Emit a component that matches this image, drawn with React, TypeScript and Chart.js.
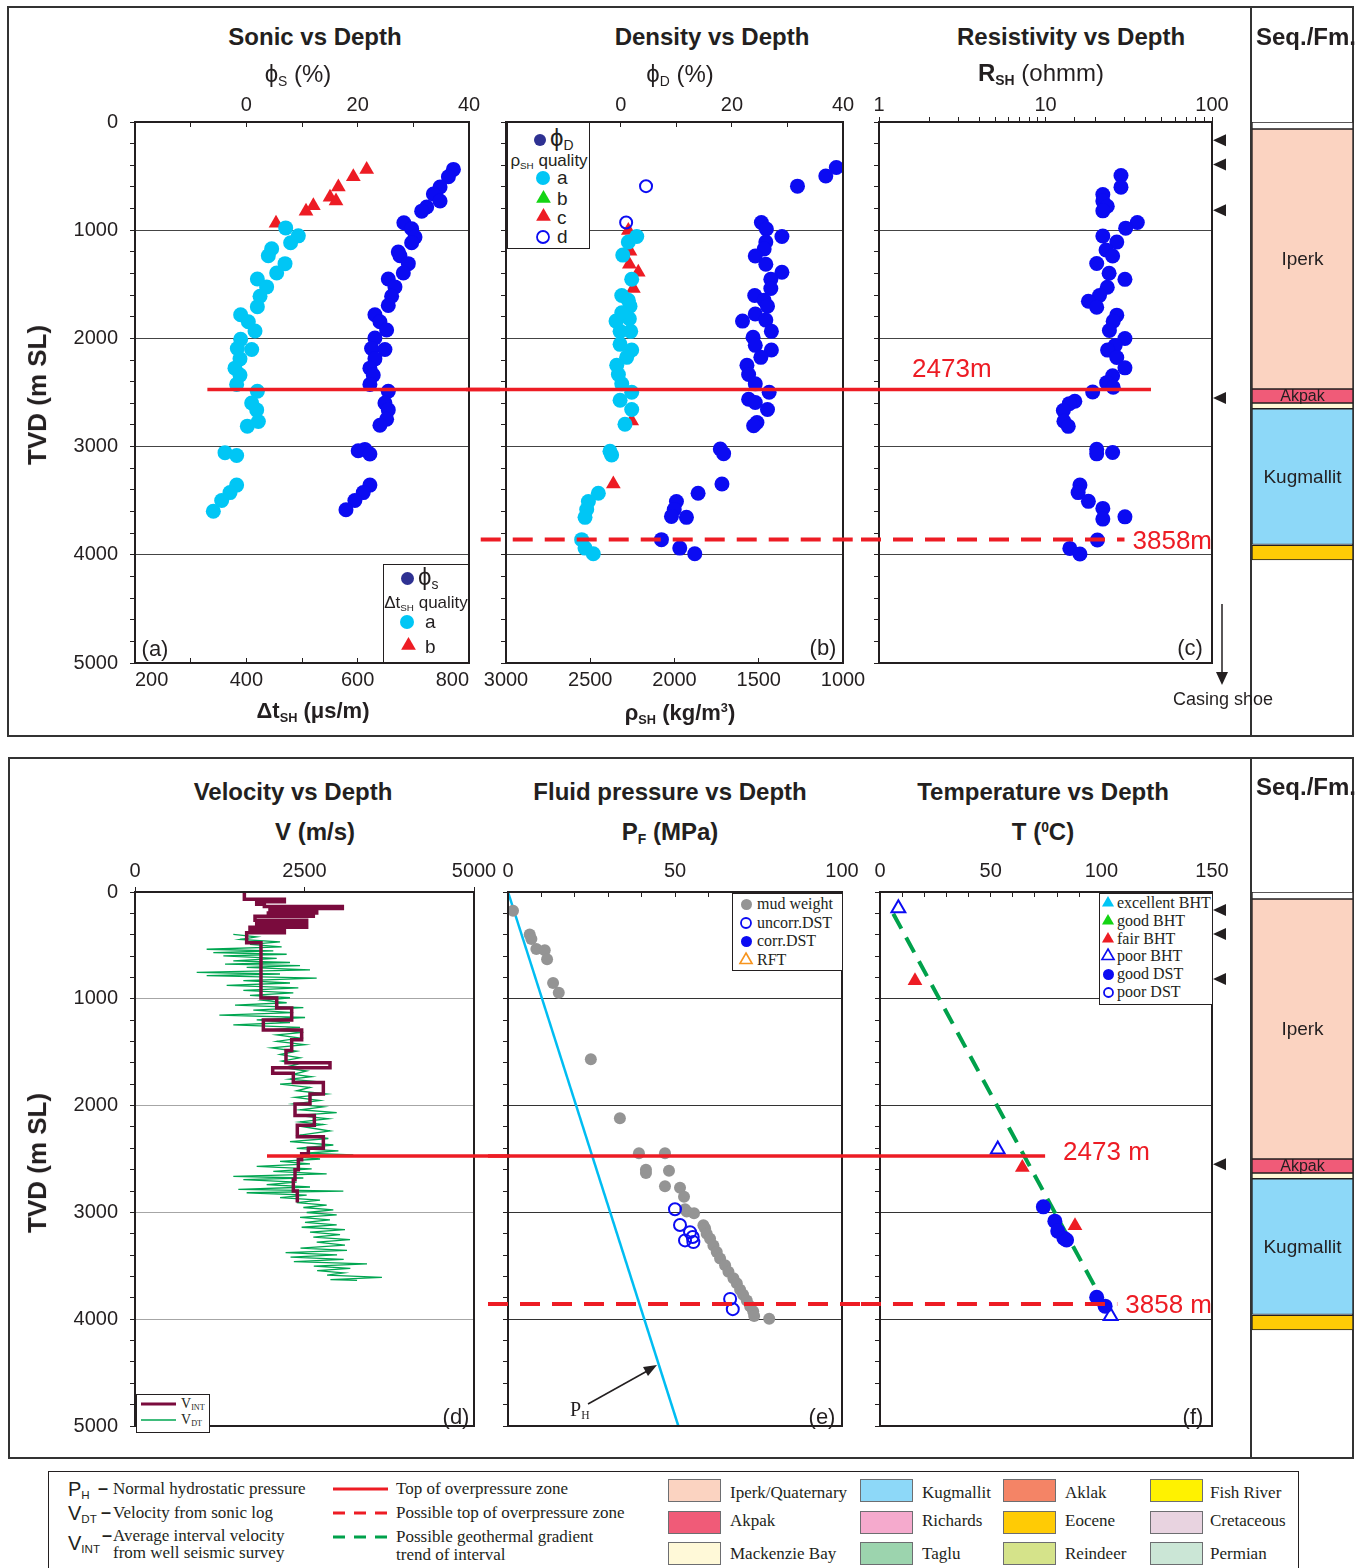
import React, { useEffect, useRef } from 'react';
import { Chart, registerables } from 'chart.js';

Chart.register(...registerables);

const FONT = "'Liberation Sans', Arial, Helvetica, sans-serif";
const SERIF = "'Liberation Serif', 'Times New Roman', Times, serif";
const INK = '#231F20';
const RED = '#ED1C24';
const BLUE = '#0B0BF2';
const NAVY = '#2E3192';
const CYAN = '#00C6F5';
const GREEN = '#14D414';
const GRAY = '#949494';
const PH_CYAN = '#00BDF2';
const MAROON = '#7A0B3D';
const LOG_GREEN = '#00A651';
const TREND_GREEN = '#00A14B';
const ORANGE = '#F7941D';

Chart.defaults.font.family = FONT;
Chart.defaults.color = INK;

// ---------------- data ----------------
// (a) Sonic
const sonicDtA = [470.7, 493.4, 479.6, 445.5, 439.5, 469.5, 454.5, 419.8, 436.5, 424.6, 419.8, 389.8, 403.6, 415.6, 389.8, 409.6, 383.8, 388.6, 379.6, 388.6, 382.6, 419.8, 409.6, 418.6, 421.6, 401.8, 361.7, 382.6, 382.6, 370.7, 355.7, 340.7];
const sonicDtADepth = [979, 1052, 1116, 1172, 1236, 1309, 1395, 1451, 1524, 1610, 1708, 1781, 1846, 1931, 2009, 2103, 2094, 2189, 2275, 2339, 2425, 2489, 2597, 2661, 2768, 2811, 3056, 3082, 3356, 3425, 3498, 3597];
const sonicDtB = [453.3, 507.2, 520.4, 550.3, 561.1, 565.3, 592.2, 616.2];
const sonicDtBDepth = [936, 824, 773, 695, 730, 601, 506, 438];
const sonicPhi = [37.2, 36.3, 34.8, 33.6, 34.8, 32.4, 31.5, 28.3, 29.7, 30.3, 29.7, 27.3, 27.6, 29.1, 28.2, 25.5, 26.7, 26.1, 25.5, 23.1, 24.0, 25.2, 23.1, 24.9, 22.5, 23.1, 22.2, 22.8, 22.2, 25.5, 24.9, 25.5, 25.2, 24.0, 20.1, 21.3, 22.2, 22.2, 21.0, 19.5, 17.9];
const sonicPhiDepth = [438, 506, 601, 665, 730, 785, 824, 931, 987, 1064, 1116, 1202, 1236, 1309, 1395, 1451, 1524, 1610, 1695, 1781, 1846, 1923, 1996, 2103, 2094, 2189, 2275, 2339, 2425, 2489, 2597, 2661, 2747, 2803, 3039, 3026, 3069, 3356, 3425, 3498, 3584];

// (b) Density
const rhoA = [2224, 2274, 2307, 2254, 2313, 2274, 2264, 2347, 2268, 2313, 2323, 2260, 2323, 2254, 2284, 2343, 2333, 2313, 2254, 2323, 2254, 2294, 2383, 2373, 2452, 2511, 2521, 2531, 2551, 2531, 2482];
const rhoADepth = [1058, 1109, 1230, 1453, 1604, 1647, 1702, 1840, 1818, 1763, 1935, 1935, 2055, 2107, 2175, 2248, 2334, 2420, 2498, 2571, 2657, 2794, 3044, 3078, 3431, 3508, 3581, 3654, 3860, 3938, 3990];
const rhoC = [2733, 2763, 2274, 2264, 2268, 2215, 2244, 2254, 2363];
const rhoCDepth = [430, 499, 1002, 1195, 1315, 1389, 1539, 2764, 3345];
const rhoD = [2169, 2287];
const rhoDDepth = [593, 929];
const densPhi = [38.8, 36.9, 31.8, 25.3, 26.2, 29.0, 26.1, 25.8, 24.2, 26.1, 29.0, 27.0, 27.0, 24.1, 25.8, 26.4, 24.2, 26.1, 21.9, 27.1, 23.8, 24.2, 27.1, 25.2, 22.7, 23.0, 24.2, 26.7, 23.0, 24.2, 26.4, 24.5, 23.9, 17.9, 18.5, 18.2, 13.9, 10.0, 9.6, 9.1, 11.8, 7.3, 10.6, 13.3];
const densPhiDepth = [421, 499, 593, 929, 989, 1058, 1109, 1174, 1238, 1315, 1389, 1453, 1539, 1604, 1647, 1702, 1775, 1831, 1840, 1935, 1990, 2064, 2107, 2175, 2248, 2334, 2420, 2498, 2562, 2592, 2657, 2777, 2807, 3022, 3065, 3345, 3431, 3508, 3581, 3645, 3654, 3860, 3938, 3990];

// (c) Resistivity
const resR = [28.4, 28.4, 22.1, 22.1, 23.5, 22.1, 35.6, 30.3, 22.1, 26.8, 23.1, 25.3, 20.3, 24.1, 30.0, 23.5, 21.1, 18.1, 20.3, 26.8, 25.5, 24.2, 30.0, 26.2, 23.6, 26.8, 30.0, 25.3, 23.3, 25.5, 19.2, 15.0, 13.9, 12.8, 12.9, 13.7, 20.3, 20.3, 25.3, 16.1, 15.7, 18.1, 22.1, 22.1, 30.0, 20.5, 14.0, 16.1];
const resDepth = [494, 602, 671, 731, 778, 821, 929, 981, 1054, 1110, 1183, 1239, 1308, 1398, 1454, 1527, 1604, 1656, 1712, 1785, 1841, 1927, 2001, 2065, 2108, 2177, 2272, 2345, 2409, 2452, 2495, 2581, 2603, 2667, 2766, 2813, 3025, 3067, 3055, 3356, 3425, 3506, 3571, 3670, 3649, 3863, 3941, 3993];

// (d) Velocity
const vIntVel = [1613, 2203, 1795, 1908, 3058, 1991, 2680, 1967, 2630, 1770, 2532, 1795, 2532, 1696, 2203, 1647, 1858, 2090, 2311, 1893, 2458, 2311, 2227, 2876, 2031, 2335, 2778, 2581, 2360, 2645, 2394, 2778, 2557, 2458, 2409, 2360, 2335, 2394];
const vIntTop = [0, 68, 92, 114, 136, 154, 176, 197, 216, 228, 265, 290, 314, 330, 360, 382, 476, 992, 1085, 1199, 1291, 1383, 1485, 1599, 1645, 1697, 1784, 1892, 1984, 2092, 2184, 2292, 2400, 2452, 2508, 2600, 2692, 2800];
const vIntBase = 2908;
// sonic-log velocity: [depth (m), velocity (m/s)]
const vdtLog: [number, number][] = [
  [397, 1450], [420, 1795], [444, 1549], [467, 2139], [490, 1696], [513, 2163], [536, 1057], [552, 2040], [567, 1155], [583, 2237],
  [598, 1303], [621, 2090], [644, 1450], [660, 2286], [675, 1328], [690, 2434], [706, 1647], [729, 2581], [752, 910], [768, 2139],
  [783, 1057], [806, 2680], [829, 1598], [852, 2286], [875, 1352], [898, 2409], [921, 1598], [944, 2335], [967, 1696], [990, 2286],
  [1014, 1893], [1037, 2237], [1060, 1475], [1083, 2483], [1106, 1745], [1129, 2335], [1152, 1244], [1175, 2508], [1198, 1795], [1222, 2286],
  [1245, 1450], [1268, 2434], [1291, 1991], [1314, 2483], [1337, 2090], [1368, 2434], [1399, 2090], [1430, 2508], [1460, 2016], [1491, 2385],
  [1522, 2139], [1553, 2434], [1584, 2163], [1615, 2385], [1645, 2188], [1676, 2532], [1707, 2335], [1730, 2606], [1753, 2286], [1776, 2680],
  [1799, 2139], [1830, 2581], [1861, 2385], [1892, 2827], [1922, 2360], [1953, 2729], [1984, 2335], [2012, 2778], [2039, 2434], [2066, 2975],
  [2092, 2385], [2123, 2852], [2153, 2434], [2177, 2778], [2200, 2507], [2238, 2876], [2277, 2434], [2308, 2852], [2338, 2286], [2369, 2925],
  [2400, 2385], [2423, 3000], [2446, 2507], [2462, 3220], [2477, 2335], [2500, 2729], [2523, 2139], [2546, 2581], [2569, 1795], [2592, 2606],
  [2616, 2040], [2639, 2827], [2662, 1450], [2678, 2483], [2693, 1598], [2716, 2385], [2739, 1942], [2762, 2581], [2785, 1524], [2800, 3073],
  [2816, 1647], [2839, 2532], [2862, 2139], [2885, 2729], [2908, 2385], [2931, 2827], [2954, 2483], [2977, 2925], [3001, 2532], [3024, 2975],
  [3047, 2434], [3070, 2876], [3093, 2507], [3116, 2975], [3139, 2458], [3162, 3097], [3185, 2581], [3208, 3024], [3232, 2630], [3255, 3171],
  [3278, 2680], [3306, 3097], [3335, 2441], [3356, 3127], [3377, 2221], [3398, 2980], [3419, 2294], [3440, 3078], [3461, 2343], [3482, 3422],
  [3503, 2637], [3524, 3176], [3545, 2686], [3566, 3078], [3587, 2833], [3608, 3642], [3629, 2882], [3636, 3275],
];

// (e) Fluid pressure
const phMPa = [0, 51];
const phDepth = [0, 5000];
const mudMPa = [1.5, 6.5, 7, 8.5, 11, 11.7, 13.5, 15.2, 24.8, 33.5, 39.2, 47, 41.3, 41.3, 48.2, 47, 51.5, 52.7, 53, 53.5, 55.7, 58.5, 59, 59.5, 60.5, 61.5, 62.5, 63.5, 65, 66, 67.5, 68.5, 69.5, 70.4, 71.5, 72.5, 73.4, 73.7, 78.2];
const mudDepth = [176, 398, 440, 533, 545, 629, 852, 944, 1565, 2118, 2446, 2446, 2601, 2630, 2609, 2756, 2769, 2853, 2970, 2991, 3008, 3120, 3149, 3201, 3247, 3309, 3370, 3432, 3494, 3555, 3617, 3663, 3725, 3771, 3826, 3879, 3925, 3971, 3995];
const dstMPa = [50, 51.5, 54.5, 55.3, 53, 55.5, 66.5, 67.3];
const dstDepth = [2970, 3118, 3185, 3230, 3262, 3278, 3810, 3906];

// (f) Temperature
const poorBhtT = [8.3, 53.2, 104.2];
const poorBhtDepth = [152, 2412, 3970];
const fairBhtT = [15.8, 64.3, 88.1];
const fairBhtDepth = [831, 2580, 3124];
const goodDstT = [73.8, 79, 80.3, 83.1, 84.3, 97.9, 101.7];
const goodDstDepth = [2948, 3082, 3175, 3241, 3259, 3794, 3878];
const gradT = [6, 102.4];
const gradDepth = [203, 3899];

// reference depths
const overpressureTop = 2473;
const possibleTop = 3858;
const casingShoeDepths = [168, 393, 815, 2550];

// formations
const fmNames = ['', 'Iperk', 'Akpak', '', 'Kugmallit', ''];
const fmTop = [0, 65, 2468, 2597, 2650, 3912];
const fmBase = [65, 2468, 2597, 2650, 3905, 4048];
const fmColors = ['#FFFFFF', '#FBD3C1', '#F05B78', '#FFF9D8', '#8DD8F8', '#FFCB05'];

// tick labels
const depthLabels = [0, 1000, 2000, 3000, 4000, 5000];
const depthGrid = [1000, 2000, 3000, 4000];
const phiLabels = [0, 20, 40];
const dtLabels = [200, 400, 600, 800];
const rhoLabels = [3000, 2500, 2000, 1500, 1000];
const resLabels = [1, 10, 100];
const velLabels = [0, 2500, 5000];
const pfLabels = [0, 50, 100];
const tempLabels = [0, 50, 100, 150];

// legend
const fmLegendNames = [
  ['Iperk/Quaternary', 'Akpak', 'Mackenzie Bay'],
  ['Kugmallit', 'Richards', 'Taglu'],
  ['Aklak', 'Eocene', 'Reindeer'],
  ['Fish River', 'Cretaceous', 'Permian'],
];
const fmLegendColors = [
  ['#FBD3C1', '#F05B78', '#FFF9D8'],
  ['#8DD8F8', '#F5AACD', '#9CD4AE'],
  ['#F48466', '#FFCB05', '#D5E38A'],
  ['#FFF200', '#E8D3E0', '#CBE6D6'],
];

// ---------------- helpers ----------------
const pts = (xs: number[], ys: number[]) => xs.map((x, i) => ({ x, y: ys[i] }));

const yDepth = (width: number, labels: boolean, gridColor: string) => ({
  type: 'linear',
  position: 'left',
  reverse: true,
  min: 0,
  max: 5000,
  afterFit: (s: any) => { s.width = width; },
  border: { display: false },
  grid: {
    color: (c: any) => (c.tick && depthGrid.includes(c.tick.value) ? gridColor : 'rgba(0,0,0,0)'),
    lineWidth: 1,
    drawTicks: true,
    tickLength: 5,
    tickColor: INK,
    tickWidth: 1,
  },
  ticks: {
    stepSize: 200,
    autoSkip: false,
    padding: 12,
    color: INK,
    font: { size: 20, family: FONT },
    callback: (v: any) => (labels && depthLabels.includes(Number(v)) ? String(v) : ''),
  },
});

const hAxis = (o: any) => ({
  type: o.type || 'linear',
  position: o.position,
  min: o.min,
  max: o.max,
  reverse: !!o.reverse,
  afterFit: (s: any) => { s.height = o.height; },
  border: { display: false },
  grid: { drawOnChartArea: false, drawTicks: true, tickLength: o.tick, tickColor: INK, tickWidth: 1, color: INK },
  ticks: {
    stepSize: o.step,
    autoSkip: false,
    maxRotation: 0,
    minRotation: 0,
    align: o.align || 'center',
    padding: o.pad,
    color: INK,
    font: { size: 20, family: FONT },
    callback: (v: any) => (o.labels.includes(Number(v)) ? String(v) : ''),
  },
});

const baseOpts = (padding: any, scales: any) => ({
  responsive: false,
  maintainAspectRatio: false,
  animation: false,
  devicePixelRatio: 1,
  events: [],
  layout: { padding },
  plugins: { legend: { display: false }, tooltip: { enabled: false }, title: { display: false } },
  scales,
});

const dots = (data: any[], color: string, r: number, axis = 'x') => ({
  data, xAxisID: axis, yAxisID: 'y', pointStyle: 'circle', pointRadius: r,
  backgroundColor: color, borderColor: color, borderWidth: 0, showLine: false,
});
const tris = (data: any[], color: string, r: number, axis = 'x') => ({
  data, xAxisID: axis, yAxisID: 'y', pointStyle: 'triangle', pointRadius: r,
  backgroundColor: color, borderColor: color, borderWidth: 0, showLine: false,
});
const hollow = (data: any[], color: string, r: number, style: string, axis = 'x') => ({
  data, xAxisID: axis, yAxisID: 'y', pointStyle: style, pointRadius: r,
  backgroundColor: 'rgba(0,0,0,0)', borderColor: color, borderWidth: 2, showLine: false,
});

const framePlugin = {
  id: 'frame',
  afterDatasetsDraw(chart: any) {
    const { ctx, chartArea: a } = chart;
    ctx.save();
    ctx.strokeStyle = INK;
    ctx.lineWidth = 2;
    ctx.setLineDash([]);
    ctx.strokeRect(a.left, a.top, a.right - a.left, a.bottom - a.top);
    ctx.restore();
  },
};

type RefLine = { depth: number; dashed?: boolean; from?: number; to?: number; text?: string; mode?: string; textX?: number };

const refLines = (lines: RefLine[]) => ({
  id: 'refLines',
  afterDatasetsDraw(chart: any) {
    const { ctx, chartArea: a } = chart;
    const xs = chart.scales.x;
    const ys = chart.scales.y;
    ctx.save();
    ctx.font = `26px ${FONT}`;
    ctx.fillStyle = RED;
    ctx.strokeStyle = RED;
    ctx.textBaseline = 'middle';
    ctx.textAlign = 'left';
    for (const L of lines) {
      const y = ys.getPixelForValue(L.depth);
      const x1 = L.from === undefined ? 0 : xs.getPixelForValue(L.from);
      let x2 = L.to === undefined ? chart.width : xs.getPixelForValue(L.to);
      if (L.text && L.mode === 'right') {
        const w = ctx.measureText(L.text).width;
        ctx.fillText(L.text, a.right - w, y + 2);
        x2 = a.right - w - 8;
      }
      ctx.lineWidth = L.dashed ? 4 : 3.5;
      ctx.setLineDash(L.dashed ? [20, 12] : []);
      ctx.beginPath();
      ctx.moveTo(x1, y);
      ctx.lineTo(x2, y);
      ctx.stroke();
      if (L.text && L.mode === 'after') ctx.fillText(L.text, x2 + 18, y - 3);
      if (L.text && L.mode === 'above') ctx.fillText(L.text, xs.getPixelForValue(L.textX), y - 20);
    }
    ctx.restore();
  },
});

const casingPlugin = {
  id: 'casing',
  afterDraw(chart: any) {
    const { ctx, chartArea: a } = chart;
    const ys = chart.scales.y;
    ctx.save();
    ctx.fillStyle = INK;
    for (const d of casingShoeDepths) {
      const y = ys.getPixelForValue(d);
      ctx.beginPath();
      ctx.moveTo(a.right + 1, y);
      ctx.lineTo(a.right + 14, y - 6);
      ctx.lineTo(a.right + 14, y + 6);
      ctx.closePath();
      ctx.fill();
    }
    ctx.restore();
  },
};

const fmLabelPlugin = {
  id: 'fmLabels',
  afterDatasetsDraw(chart: any) {
    const ctx = chart.ctx;
    ctx.save();
    ctx.fillStyle = INK;
    ctx.textAlign = 'center';
    ctx.textBaseline = 'middle';
    fmNames.forEach((name, i) => {
      if (!name) return;
      const bar = chart.getDatasetMeta(i).data[0];
      const yc = (bar.y + bar.base) / 2;
      ctx.font = `${name === 'Akpak' ? 16 : 19}px ${FONT}`;
      ctx.fillText(name, bar.x, yc + 1);
    });
    ctx.restore();
  },
};

// ---------------- chart configs ----------------
const cfgSonic = () => ({
  type: 'scatter',
  data: {
    datasets: [
      dots(pts(sonicPhi, sonicPhiDepth), BLUE, 7.5, 'x2'),
      dots(pts(sonicDtA, sonicDtADepth), CYAN, 7.5, 'x'),
      tris(pts(sonicDtB, sonicDtBDepth), RED, 8.5, 'x'),
    ],
  },
  options: baseOpts({ left: 0, right: 31, top: 0, bottom: 0 }, {
    x: hAxis({ position: 'bottom', min: 200, max: 800, step: 100, height: 37, labels: dtLabels, tick: -5, pad: 10, align: 'inner' }),
    x2: hAxis({ position: 'top', min: -20, max: 40, step: 10, height: 34, labels: phiLabels, tick: -5, pad: 10 }),
    y: yDepth(135, true, '#444'),
  }),
  plugins: [framePlugin, refLines([{ depth: overpressureTop, from: 330 }])],
});

const cfgDensity = () => ({
  type: 'scatter',
  data: {
    datasets: [
      hollow(pts(rhoD, rhoDDepth), BLUE, 6, 'circle', 'x'),
      dots(pts(densPhi, densPhiDepth), BLUE, 7.5, 'x2'),
      dots(pts(rhoA, rhoADepth), CYAN, 7.5, 'x'),
      tris(pts(rhoC, rhoCDepth), RED, 8.5, 'x'),
    ],
  },
  options: baseOpts({ left: 0, right: 39, top: 0, bottom: 0 }, {
    x: hAxis({ position: 'bottom', min: 1000, max: 3000, reverse: true, step: 500, height: 37, labels: rhoLabels, tick: -5, pad: 10 }),
    x2: hAxis({ position: 'top', min: -20.7, max: 40, step: 10, height: 34, labels: phiLabels, tick: -5, pad: 10 }),
    y: yDepth(40, false, '#444'),
  }),
  plugins: [
    framePlugin,
    refLines([
      { depth: overpressureTop, to: 893 },
      { depth: possibleTop, dashed: true, from: 3150, to: 893 },
    ]),
  ],
});

const cfgRes = () => ({
  type: 'scatter',
  data: { datasets: [dots(pts(resR, resDepth), BLUE, 7.5, 'x')] },
  options: baseOpts({ left: 0, right: 78, top: 0, bottom: 37 }, {
    x: hAxis({ type: 'logarithmic', position: 'top', min: 1, max: 100, height: 34, labels: resLabels, tick: 5, pad: 0 }),
    y: yDepth(18, false, '#444'),
  }),
  plugins: [
    framePlugin,
    casingPlugin,
    refLines([
      { depth: overpressureTop, to: 43, text: '2473m', mode: 'above', textX: 1.58 },
      { depth: possibleTop, dashed: true, text: '3858m', mode: 'right' },
    ]),
  ],
});

const cfgVel = () => {
  const vint = vIntTop.map((d, i) => ({ x: vIntVel[i], y: d }));
  vint.push({ x: vIntVel[vIntVel.length - 1], y: vIntBase });
  return {
    type: 'scatter',
    data: {
      datasets: [
        { data: vint, xAxisID: 'x', yAxisID: 'y', showLine: true, stepped: 'after', borderColor: MAROON, borderWidth: 3.5, pointRadius: 0, fill: false },
        { data: vdtLog.map(([d, v]) => ({ x: v, y: d })), xAxisID: 'x', yAxisID: 'y', showLine: true, borderColor: LOG_GREEN, borderWidth: 1.3, pointRadius: 0, fill: false, tension: 0 },
      ],
    },
    options: baseOpts({ left: 0, right: 36, top: 0, bottom: 17 }, {
      x: hAxis({ position: 'top', min: 0, max: 5000, step: 2500, height: 34, labels: velLabels, tick: 5, pad: 4 }),
      y: yDepth(135, true, '#A6A6A6'),
    }),
    plugins: [framePlugin, refLines([{ depth: overpressureTop, from: 1947 }])],
  };
};

const cfgPress = () => ({
  type: 'scatter',
  data: {
    datasets: [
      hollow(pts(dstMPa, dstDepth), BLUE, 6, 'circle', 'x'),
      dots(pts(mudMPa, mudDepth), GRAY, 6, 'x'),
      { data: pts(phMPa, phDepth), xAxisID: 'x', yAxisID: 'y', showLine: true, borderColor: PH_CYAN, borderWidth: 2.5, pointRadius: 0, fill: false },
    ],
  },
  options: baseOpts({ left: 0, right: 36, top: 0, bottom: 17 }, {
    x: hAxis({ position: 'top', min: 0, max: 100, step: 10, height: 34, labels: pfLabels, tick: -5, pad: 14 }),
    y: yDepth(20, false, '#333'),
  }),
  plugins: [
    framePlugin,
    refLines([
      { depth: overpressureTop, to: 105.7 },
      { depth: possibleTop, dashed: true, to: 105.7 },
    ]),
  ],
});

const cfgTemp = () => ({
  type: 'scatter',
  data: {
    datasets: [
      dots(pts(goodDstT, goodDstDepth), BLUE, 7.5, 'x'),
      tris(pts(fairBhtT, fairBhtDepth), RED, 8.5, 'x'),
      hollow(pts(poorBhtT, poorBhtDepth), BLUE, 8, 'triangle', 'x'),
      { data: pts(gradT, gradDepth), xAxisID: 'x', yAxisID: 'y', showLine: true, borderColor: TREND_GREEN, borderWidth: 4, borderDash: [17, 10], pointRadius: 0, fill: false },
    ],
  },
  options: baseOpts({ left: 0, right: 78, top: 0, bottom: 17 }, {
    x: hAxis({ position: 'top', min: 0, max: 150, step: 10, height: 34, labels: tempLabels, tick: -5, pad: 14 }),
    y: yDepth(29, false, '#333'),
  }),
  plugins: [
    framePlugin,
    casingPlugin,
    refLines([
      { depth: overpressureTop, from: -8.6, to: 74.6, text: '2473 m', mode: 'after' },
      { depth: possibleTop, dashed: true, from: -8.6, text: '3858 m', mode: 'right' },
    ]),
  ],
});

const cfgSeq = (top: number, bottom: number) => () => ({
  type: 'bar',
  data: {
    labels: [''],
    datasets: fmTop.map((t, i) => ({
      data: [[t, fmBase[i]]],
      backgroundColor: fmColors[i],
      borderColor: INK,
      borderWidth: 1,
      borderSkipped: false,
      barPercentage: 1,
      categoryPercentage: 1,
      grouped: false,
    })),
  },
  options: baseOpts({ left: 1, right: 1, top, bottom }, {
    x: { display: false },
    y: { display: false, min: 0, max: 5000, reverse: true },
  }),
  plugins: [fmLabelPlugin],
});

// ---------------- components ----------------
function ChartCanvas({ x, y, w, h, config }: any) {
  const ref = useRef<HTMLCanvasElement | null>(null);
  useEffect(() => {
    const chart = new Chart(ref.current as HTMLCanvasElement, config() as any);
    return () => chart.destroy();
  }, []);
  return <canvas ref={ref} width={w} height={h} style={{ position: 'absolute', left: x, top: y, width: w, height: h }} />;
}

const Sub = ({ children }: any) => (
  <span style={{ fontSize: '0.58em', position: 'relative', top: '0.3em' }}>{children}</span>
);
const Sup = ({ children }: any) => (
  <span style={{ fontSize: '0.58em', position: 'relative', top: '-0.6em' }}>{children}</span>
);

function Txt({ x, y, children, size = 20, bold = false, serif = false, color = INK, anchor = 'center', rotate = 0 }: any) {
  const tx = anchor === 'center' ? '-50%' : anchor === 'right' ? '-100%' : '0';
  return (
    <div
      style={{
        position: 'absolute', left: x, top: y,
        transform: `translate(${tx}, -50%)${rotate ? ` rotate(${rotate}deg)` : ''}`,
        fontSize: size, fontWeight: bold ? 700 : 400, fontFamily: serif ? SERIF : FONT,
        color, whiteSpace: 'nowrap', lineHeight: 1.15,
      }}
    >
      {children}
    </div>
  );
}

function Mark({ x, y, kind = 'circle', color, r = 6, open = false }: any) {
  const s = r * 2 + 6;
  const c = s / 2;
  const fill = open ? 'none' : color;
  const stroke = open ? color : 'none';
  return (
    <svg width={s} height={s} style={{ position: 'absolute', left: x - c, top: y - c, overflow: 'visible' }}>
      {kind === 'circle' ? (
        <circle cx={c} cy={c} r={open ? r - 1 : r} fill={fill} stroke={stroke} strokeWidth={1.8} />
      ) : (
        <polygon points={`${c},${c - r} ${c + r * 0.866},${c + r * 0.5} ${c - r * 0.866},${c + r * 0.5}`} fill={fill} stroke={stroke} strokeWidth={1.6} />
      )}
    </svg>
  );
}

const Box = ({ x, y, w, h }: any) => (
  <div style={{ position: 'absolute', left: x, top: y, width: w, height: h, border: `1px solid ${INK}`, background: '#fff', boxSizing: 'border-box' }} />
);

export default function App() {
  const legCols = [668, 860, 1003, 1150];
  const legRows = [1479, 1511, 1542];
  const legTextX = [730, 922, 1065, 1210];
  const legTextY = [1493, 1521, 1554];
  return (
    <div style={{ position: 'absolute', left: 0, top: 0, width: 1363, height: 1568, overflow: 'hidden', background: '#fff', fontFamily: FONT, color: INK }}>
      {/* outer frames */}
      <div style={{ position: 'absolute', left: 7, top: 6, width: 1347, height: 731, border: '2px solid #333', boxSizing: 'border-box' }} />
      <div style={{ position: 'absolute', left: 1250, top: 6, width: 2, height: 731, background: '#333' }} />
      <div style={{ position: 'absolute', left: 8, top: 757, width: 1346, height: 702, border: '2px solid #333', boxSizing: 'border-box' }} />
      <div style={{ position: 'absolute', left: 1250, top: 757, width: 2, height: 702, background: '#333' }} />

      {/* top row charts */}
      <ChartCanvas x={0} y={88} w={500} h={612} config={cfgSonic} />
      <ChartCanvas x={466} y={88} w={416} h={612} config={cfgDensity} />
      <ChartCanvas x={861} y={88} w={429} h={612} config={cfgRes} />
      <ChartCanvas x={1251} y={88} w={103} h={612} config={cfgSeq(34, 37)} />

      {/* bottom row charts */}
      <ChartCanvas x={0} y={858} w={510} h={592} config={cfgVel} />
      <ChartCanvas x={488} y={858} w={390} h={592} config={cfgPress} />
      <ChartCanvas x={851} y={858} w={439} h={592} config={cfgTemp} />
      <ChartCanvas x={1251} y={858} w={103} h={592} config={cfgSeq(34, 17)} />

      {/* top row texts */}
      <Txt x={315} y={37} size={24} bold>Sonic vs Depth</Txt>
      <Txt x={712} y={37} size={24} bold>Density vs Depth</Txt>
      <Txt x={1071} y={37} size={24} bold>Resistivity vs Depth</Txt>
      <Txt x={1256} y={37} size={24} bold anchor="left">Seq./Fm.</Txt>
      <Txt x={298} y={74} size={24}>ϕ<Sub>S</Sub> (%)</Txt>
      <Txt x={680} y={74} size={24}>ϕ<Sub>D</Sub> (%)</Txt>
      <Txt x={1041} y={73} size={24}><b>R<Sub>SH</Sub></b> (ohmm)</Txt>
      <Txt x={38} y={395} size={26} bold rotate={-90}>TVD (m SL)</Txt>
      <Txt x={313} y={711} size={22} bold>Δt<Sub>SH</Sub> (μs/m)</Txt>
      <Txt x={680} y={713} size={22} bold>ρ<Sub>SH</Sub> (kg/m<Sup>3</Sup>)</Txt>
      <Txt x={155} y={649} size={22}>(a)</Txt>
      <Txt x={823} y={648} size={22}>(b)</Txt>
      <Txt x={1190} y={648} size={22}>(c)</Txt>
      <Txt x={1223} y={699} size={18}>Casing shoe</Txt>

      {/* legend (a) */}
      <Box x={383} y={564} w={86} h={99} />
      <Mark x={407} y={578} color={NAVY} r={6.5} />
      <Txt x={418} y={577} size={24} anchor="left">ϕ<Sub>s</Sub></Txt>
      <Txt x={426} y={603} size={17}>Δt<Sub>SH</Sub> quality</Txt>
      <Mark x={407} y={622} color={CYAN} r={7} />
      <Txt x={425} y={622} size={19} anchor="left">a</Txt>
      <Mark x={408} y={645} kind="tri" color={RED} r={8.5} />
      <Txt x={425} y={647} size={19} anchor="left">b</Txt>

      {/* legend (b) */}
      <Box x={507} y={122} w={83} h={127} />
      <Mark x={540} y={140} color={NAVY} r={6} />
      <Txt x={550} y={138} size={24} anchor="left">ϕ<Sub>D</Sub></Txt>
      <Txt x={549} y={161} size={17}>ρ<Sub>SH</Sub> quality</Txt>
      <Mark x={543} y={178} color={CYAN} r={7} />
      <Txt x={557} y={178} size={19} anchor="left">a</Txt>
      <Mark x={543} y={198} kind="tri" color={GREEN} r={8.5} />
      <Txt x={557} y={199} size={19} anchor="left">b</Txt>
      <Mark x={543} y={216} kind="tri" color={RED} r={8.5} />
      <Txt x={557} y={218} size={19} anchor="left">c</Txt>
      <Mark x={543} y={237} color={BLUE} r={7} open />
      <Txt x={557} y={237} size={19} anchor="left">d</Txt>

      {/* bottom row texts */}
      <Txt x={293} y={792} size={24} bold>Velocity vs Depth</Txt>
      <Txt x={670} y={792} size={24} bold>Fluid pressure vs Depth</Txt>
      <Txt x={1043} y={792} size={24} bold>Temperature vs Depth</Txt>
      <Txt x={1256} y={787} size={24} bold anchor="left">Seq./Fm.</Txt>
      <Txt x={315} y={832} size={24} bold>V (m/s)</Txt>
      <Txt x={670} y={832} size={24} bold>P<Sub>F</Sub> (MPa)</Txt>
      <Txt x={1043} y={832} size={24} bold>T (<Sup>0</Sup>C)</Txt>
      <Txt x={38} y={1163} size={26} bold rotate={-90}>TVD (m SL)</Txt>
      <Txt x={456} y={1417} size={22}>(d)</Txt>
      <Txt x={822} y={1417} size={22}>(e)</Txt>
      <Txt x={1193} y={1417} size={22}>(f)</Txt>
      <Txt x={570} y={1409} size={20} serif anchor="left">P<Sub>H</Sub></Txt>

      {/* legend (d) */}
      <Box x={136} y={1394} w={74} h={39} />
      <Txt x={181} y={1404} size={14} serif anchor="left">V<Sub>INT</Sub></Txt>
      <Txt x={181} y={1420} size={14} serif anchor="left">V<Sub>DT</Sub></Txt>

      {/* legend (e) */}
      <Box x={732} y={893} w={111} h={78} />
      <Mark x={746} y={904} color={GRAY} r={5.5} />
      <Txt x={757} y={904} size={16} serif anchor="left">mud weight</Txt>
      <Mark x={746} y={923} color={BLUE} r={6} open />
      <Txt x={757} y={923} size={16} serif anchor="left">uncorr.DST</Txt>
      <Mark x={746} y={941} color={BLUE} r={5.5} />
      <Txt x={757} y={941} size={16} serif anchor="left">corr.DST</Txt>
      <Mark x={746} y={960} kind="tri" color={ORANGE} r={7} open />
      <Txt x={757} y={960} size={16} serif anchor="left">RFT</Txt>

      {/* legend (f) */}
      <Box x={1099} y={893} w={114} h={112} />
      <Mark x={1108} y={903} kind="tri" color={CYAN} r={7} />
      <Txt x={1117} y={903} size={16} serif anchor="left">excellent BHT</Txt>
      <Mark x={1108} y={921} kind="tri" color={GREEN} r={7} />
      <Txt x={1117} y={921} size={16} serif anchor="left">good BHT</Txt>
      <Mark x={1108} y={939} kind="tri" color={RED} r={7} />
      <Txt x={1117} y={939} size={16} serif anchor="left">fair BHT</Txt>
      <Mark x={1108} y={956} kind="tri" color={BLUE} r={7} open />
      <Txt x={1117} y={956} size={16} serif anchor="left">poor BHT</Txt>
      <Mark x={1108} y={974} color={BLUE} r={5.5} />
      <Txt x={1117} y={974} size={16} serif anchor="left">good DST</Txt>
      <Mark x={1108} y={992} color={BLUE} r={5.5} open />
      <Txt x={1117} y={992} size={16} serif anchor="left">poor DST</Txt>

      {/* bottom legend */}
      <div style={{ position: 'absolute', left: 48, top: 1471, width: 1251, height: 120, border: `1px solid ${INK}`, boxSizing: 'border-box' }} />
      <Txt x={68} y={1489} size={20} anchor="left">P<Sub>H</Sub></Txt>
      <Txt x={98} y={1488} size={18} bold anchor="left">–</Txt>
      <Txt x={113} y={1489} size={17} serif anchor="left">Normal hydrostatic pressure</Txt>
      <Txt x={68} y={1513} size={20} anchor="left">V<Sub>DT</Sub></Txt>
      <Txt x={101} y={1512} size={18} bold anchor="left">–</Txt>
      <Txt x={113} y={1513} size={17} serif anchor="left">Velocity from sonic log</Txt>
      <Txt x={68} y={1543} size={20} anchor="left">V<Sub>INT</Sub></Txt>
      <Txt x={102} y={1535} size={18} bold anchor="left">–</Txt>
      <Txt x={113} y={1536} size={17} serif anchor="left">Average interval velocity</Txt>
      <Txt x={113} y={1553} size={17} serif anchor="left">from well seismic survey</Txt>
      <Txt x={396} y={1489} size={17} serif anchor="left">Top of overpressure zone</Txt>
      <Txt x={396} y={1513} size={17} serif anchor="left">Possible top of overpressure zone</Txt>
      <Txt x={396} y={1537} size={17} serif anchor="left">Possible geothermal gradient</Txt>
      <Txt x={396} y={1555} size={17} serif anchor="left">trend of interval</Txt>
      {legCols.map((cx, ci) =>
        legRows.map((ry, ri) => (
          <React.Fragment key={`${ci}-${ri}`}>
            <div style={{ position: 'absolute', left: cx, top: ry, width: 53, height: 23, background: fmLegendColors[ci][ri], border: '1px solid #6D6E71', boxSizing: 'border-box' }} />
            <Txt x={legTextX[ci]} y={legTextY[ri]} size={17} serif anchor="left">{fmLegendNames[ci][ri]}</Txt>
          </React.Fragment>
        ))
      )}

      {/* annotation overlay */}
      <svg width={1363} height={1568} style={{ position: 'absolute', left: 0, top: 0, pointerEvents: 'none' }}>
        <line x1={1222} y1={604} x2={1222} y2={674} stroke={INK} strokeWidth={1.5} />
        <polygon points="1216,672 1228,672 1222,685" fill={INK} />
        <line x1={588} y1={1404} x2={649} y2={1370} stroke={INK} strokeWidth={1.5} />
        <polygon points="657,1365 648,1376 643,1367" fill={INK} />
        <line x1={141} y1={1404} x2={176} y2={1404} stroke={MAROON} strokeWidth={3} />
        <line x1={141} y1={1420} x2={176} y2={1420} stroke={LOG_GREEN} strokeWidth={1.5} />
        <line x1={333} y1={1489} x2={388} y2={1489} stroke={RED} strokeWidth={3} />
        <line x1={333} y1={1513} x2={388} y2={1513} stroke={RED} strokeWidth={3} strokeDasharray="12 9" />
        <line x1={333} y1={1537} x2={388} y2={1537} stroke={TREND_GREEN} strokeWidth={3} strokeDasharray="12 9" />
      </svg>
    </div>
  );
}
